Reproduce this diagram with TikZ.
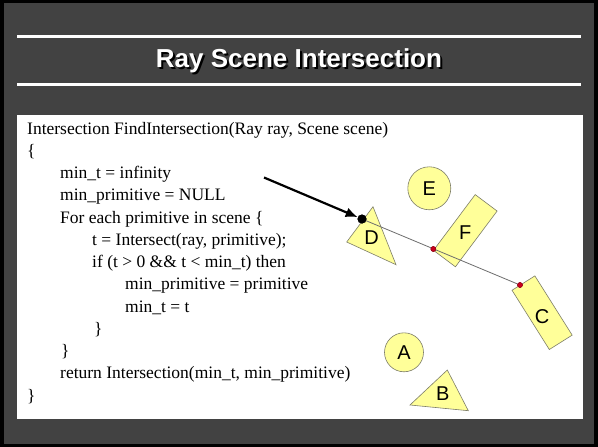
\documentclass[tikz,border=0pt]{standalone}
\usepackage{fontspec}
\setmainfont{Liberation Serif}
\newfontfamily\labelfont{Liberation Sans}
\usetikzlibrary{arrows.meta}

\definecolor{slidegray}{RGB}{66,66,66}
\definecolor{primfill}{RGB}{255,255,153}
\definecolor{primedge}{RGB}{125,125,105}
\definecolor{hitred}{RGB}{200,0,30}
\definecolor{raygray}{RGB}{110,110,110}

% title text with a drop shadow set underneath it
\newcommand{\shadowtext}[1]{%
  \makebox[0pt][l]{\hspace{2pt}\raisebox{-2pt}{\textcolor{black}{#1}}}#1}

\tikzset{
  codeline/.style={anchor=base west, inner sep=0pt, font=\fontsize{17.5}{21}\selectfont},
  prim/.style={draw=primedge, fill=primfill, line width=0.6pt},
  primlabel/.style={inner sep=0pt, font=\labelfont\fontsize{20}{24}\selectfont},
  hitdot/.style={circle, inner sep=0pt, minimum size=5pt, fill=hitred, draw=hitred!70!black, line width=0.4pt},
  rule/.style={draw=white, line width=3pt},
}

\begin{document}
\begin{tikzpicture}[x=1pt, y=-1pt]
  \useasboundingbox (0,0) rectangle (598,447);

  % slide frame and background
  \fill[black] (0,0) rectangle (598,447);
  \fill[slidegray] (4,3) rectangle (594,444);

  % title band
  \draw[rule] (17,36) -- (581,36);
  \draw[rule] (17,84) -- (581,84);
  \node[text=white, font=\labelfont\bfseries\fontsize{26}{30}\selectfont]
    (title) at (299,61.5) {\shadowtext{Ray Scene Intersection}};

  % white content panel
  \fill[white] (17,115) rectangle (583,419);

  % pseudo-code
  \node[codeline] (c1)  at (27,134)    {Intersection FindIntersection(Ray ray, Scene scene)};
  \node[codeline] (c2)  at (27,156.25) {\{};
  \node[codeline] (c3)  at (60,178.5)  {min\_t = infinity};
  \node[codeline] (c4)  at (60,200.75) {min\_primitive = NULL};
  \node[codeline] (c5)  at (60,223)    {For each primitive in scene \{};
  \node[codeline] (c6)  at (92,245.25) {t = Intersect(ray, primitive);};
  \node[codeline] (c7)  at (92,267.5)  {if (t > 0 \&\& t < min\_t) then};
  \node[codeline] (c8)  at (125,289.75){min\_primitive = primitive};
  \node[codeline] (c9)  at (125,312)   {min\_t = t};
  \node[codeline] (c10) at (94,334.25) {\}};
  \node[codeline] (c11) at (61,356.5)  {\}};
  \node[codeline] (c12) at (60,378.75) {return Intersection(min\_t, min\_primitive)};
  \node[codeline] (c13) at (27,401)    {\}};

  % scene primitives
  \node[prim, circle, minimum size=43pt, inner sep=0pt] (E) at (429.3,188.3) {};
  \node[primlabel] at (E) {E};
  \node[prim, circle, minimum size=39pt, inner sep=0pt] (A) at (404,352.3) {};
  \node[primlabel] at (A) {A};

  \node[prim, rectangle, minimum width=69.6pt, minimum height=27.4pt, inner sep=0pt, rotate=53.2]
    (F) at (465.3,230.7) {};
  \node[primlabel] at ([yshift=-2pt]F.center) {F};
  \node[prim, rectangle, minimum width=70pt, minimum height=27pt, inner sep=0pt, rotate=-57.8]
    (C) at (542.1,312.7) {};
  \node[primlabel] at ([yshift=-4pt]C.center) {C};

  \draw[prim, line join=miter] (373,206.7) -- (346.7,242) -- (396,264.7) -- cycle;
  \node[primlabel] (D) at (371.7,237.5) {D};
  \draw[prim, line join=miter] (447.3,370) -- (410,405) -- (468.3,410.7) -- cycle;
  \node[primlabel] (B) at (442.7,394) {B};

  % ray and its hits
  \node[circle, fill=black, inner sep=0pt, minimum size=9pt] (hit) at (362,219) {};
  \node[hitdot] (hitF) at (433.3,249) {};
  \node[hitdot] (hitC) at (520,285) {};
  \draw[raygray, line width=0.8pt] (hit.center) -- (hitC.center);
  \node[hitdot] at (hitF) {};
  \node[hitdot] at (hitC) {};
  \node[circle, fill=black, inner sep=0pt, minimum size=9pt] at (hit) {};

  % pointer arrow
  \coordinate (src) at (264,177.5);
  \draw[line width=2.2pt, -{Latex[length=12pt,width=10pt]}] (src) -- (hit);
\end{tikzpicture}
\end{document}
